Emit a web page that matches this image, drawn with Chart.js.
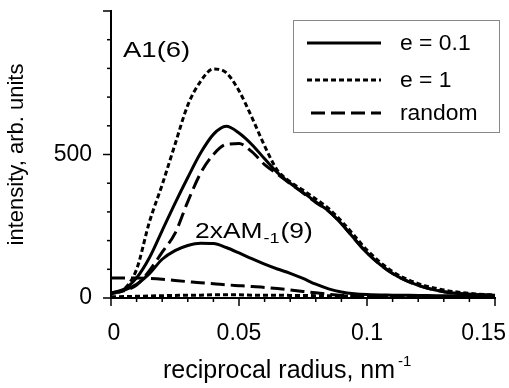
<!DOCTYPE html>
<html>
<head>
<meta charset="utf-8">
<script src="https://cdn.jsdelivr.net/npm/chart.js@4.4.0/dist/chart.umd.min.js"></script>
<style>
  html, body { margin: 0; padding: 0; background: #fff; }
  #wrap { width: 509px; height: 388px; }
</style>
</head>
<body>
<div id="wrap"><canvas id="chart" width="509" height="388"></canvas></div>
<script>
// reciprocal radius, nm^-1
const radius = [0, 0.005, 0.01, 0.015, 0.02, 0.025, 0.03, 0.035, 0.04, 0.045, 0.05,
  0.055, 0.06, 0.065, 0.07, 0.075, 0.08, 0.085, 0.09, 0.095, 0.1,
  0.11, 0.12, 0.13, 0.14, 0.15];

// A1(6)
const a1Solid = [18, 30, 70, 140, 235, 330, 420, 505, 570, 598, 575,
  535, 485, 437, 400, 368, 335, 303, 259, 207, 157,
  85, 44, 22, 13, 10];
const a1Dotted = [15, 30, 100, 265, 395, 535, 672, 755, 798, 785, 722,
  630, 530, 445, 405, 376, 345, 312, 268, 218, 167,
  92, 50, 28, 16, 10];
const a1Dashed = [15, 25, 45, 95, 160, 225, 336, 435, 500, 535, 538,
  510, 465, 432, 398, 366, 333, 303, 259, 207, 157,
  85, 44, 22, 13, 10];

// 2xAM-1(9)
const amSolid = [17, 27, 48, 85, 135, 165, 183, 191, 190, 176, 157,
  137, 118, 101, 86, 68, 48, 32, 21, 15, 12,
  10, 9, 8, 8, 8];
const amDotted = [4, 5, 6, 7, 8, 9, 10, 10, 11, 11, 11,
  10, 10, 10, 9, 9, 8, 8, 7, 7, 6,
  6, 5, 5, 4, 4];
const amDashed = [70, 70, 70, 68, 65, 61, 57, 53, 50, 46, 43,
  40, 37, 33, 28, 23, 18, 13, 9, 7, 5,
  4, 3, 3, 2, 2];

const xTicks = [0, 0.05, 0.1, 0.15];
const yTicks = [0, 500];

const legendItems = ["e = 0.1", "e = 1", "random"];
const styles = {
  solid: [],
  dotted: [5, 3],
  dashed: [14, 6]
};

function pts(ys) {
  return ys.map((y, i) => ({ x: radius[i], y: y }));
}

function line(ys, dash) {
  return {
    data: pts(ys),
    borderColor: "#000",
    borderWidth: 3,
    borderDash: dash,
    pointRadius: 0,
    fill: false,
    cubicInterpolationMode: "monotone",
    showLine: true
  };
}

const FONT = "Liberation Sans, Arial, sans-serif";

function noPad(scale) {
  scale.paddingLeft = 0;
  scale.paddingRight = 0;
  scale.paddingTop = 0;
  scale.paddingBottom = 0;
}

// text stretched a little sideways, like the reference lettering
function wideText(ctx, txt, x, y, sx) {
  ctx.save();
  ctx.translate(x, y);
  ctx.scale(sx, 1);
  ctx.fillText(txt, 0, 0);
  const w = ctx.measureText(txt).width * sx;
  ctx.restore();
  return w;
}

// draws outward tick marks, x labels, x title, legend box and curve labels
const decor = {
  id: "decor",
  afterDraw(chart) {
    const ctx = chart.ctx;
    const xs = chart.scales.x;
    const ys = chart.scales.y;
    const area = chart.chartArea;
    ctx.save();
    ctx.strokeStyle = "#000";
    ctx.lineWidth = 1.5;
    for (let k = 0; k <= 10; k++) {
      const py = ys.getPixelForValue(k * 100);
      const len = k % 5 === 0 ? 8 : 4;
      ctx.beginPath();
      ctx.moveTo(area.left - len, py);
      ctx.lineTo(area.left, py);
      ctx.stroke();
    }
    for (let k = 0; k <= 15; k++) {
      const px = xs.getPixelForValue(k * 0.01);
      const len = k % 5 === 0 ? 8 : 4;
      ctx.beginPath();
      ctx.moveTo(px, area.bottom);
      ctx.lineTo(px, area.bottom + len);
      ctx.stroke();
    }

    // x tick labels, kept inside the canvas
    ctx.fillStyle = "#000";
    ctx.font = "23px " + FONT;
    ctx.textBaseline = "middle";
    ctx.textAlign = "left";
    xTicks.forEach(v => {
      const s = String(v);
      const w = ctx.measureText(s).width;
      let left = xs.getPixelForValue(v) - w / 2;
      if (v === 0) left += 3;
      left = Math.min(left, chart.width - 3 - w);
      ctx.fillText(s, left, 334);
    });

    // x title with superscript
    ctx.textBaseline = "alphabetic";
    ctx.font = "25px " + FONT;
    const t = "reciprocal radius, nm";
    ctx.fillText(t, 163, 378);
    const tw = ctx.measureText(t).width;
    ctx.font = "15px " + FONT;
    ctx.fillText("-1", 163 + tw + 3, 366);

    // legend
    ctx.strokeStyle = "#888";
    ctx.lineWidth = 1;
    ctx.strokeRect(293.5, 20.5, 206, 112);
    const rows = [43, 80, 113];
    const dashes = [styles.solid, styles.dotted, styles.dashed];
    const starts = [307, 307, 311];
    ctx.font = "22px " + FONT;
    ctx.textBaseline = "middle";
    rows.forEach((y, i) => {
      ctx.strokeStyle = "#000";
      ctx.lineWidth = 3;
      ctx.setLineDash(dashes[i]);
      ctx.beginPath();
      ctx.moveTo(starts[i], y);
      ctx.lineTo(381, y);
      ctx.stroke();
      ctx.setLineDash([]);
      wideText(ctx, legendItems[i], 400, y + 1, 1.04);
    });

    // curve labels
    ctx.textBaseline = "alphabetic";
    ctx.font = "22px " + FONT;
    wideText(ctx, "A1(6)", 123, 57, 1.25);
    let x = 195;
    x += wideText(ctx, "2xAM", x, 238, 1.2);
    ctx.font = "15px " + FONT;
    x += wideText(ctx, "-1", x + 1, 243, 1.2) + 2;
    ctx.font = "22px " + FONT;
    wideText(ctx, "(9)", x, 238, 1.2);
    ctx.restore();
  }
};

new Chart(document.getElementById("chart"), {
  type: "scatter",
  data: {
    datasets: [
      line(a1Solid, styles.solid),
      line(a1Dotted, styles.dotted),
      line(a1Dashed, styles.dashed),
      line(amSolid, styles.solid),
      line(amDotted, styles.dotted),
      line(amDashed, styles.dashed)
    ]
  },
  options: {
    responsive: false,
    animation: false,
    layout: { padding: { top: 11, right: 14, left: 0, bottom: 0 } },
    plugins: { legend: { display: false }, tooltip: { enabled: false } },
    scales: {
      x: {
        type: "linear",
        min: 0,
        max: 0.15,
        afterFit(scale) { scale.height = 90; noPad(scale); },
        afterBuildTicks(scale) { scale.ticks = xTicks.map(v => ({ value: v })); },
        grid: { display: false, drawTicks: false },
        border: { color: "#000", width: 2 },
        ticks: { display: false }
      },
      y: {
        min: 0,
        max: 1000,
        afterFit(scale) { scale.width = 111; noPad(scale); },
        afterBuildTicks(scale) { scale.ticks = yTicks.map(v => ({ value: v })); },
        grid: { display: false, drawTicks: false },
        border: { color: "#000", width: 2 },
        ticks: {
          color: "#000",
          font: { family: FONT, size: 23 },
          padding: 19
        },
        title: {
          display: true,
          text: "intensity, arb. units",
          color: "#000",
          font: { family: FONT, size: 22 },
          padding: { top: 4, bottom: 0 }
        }
      }
    }
  },
  plugins: [decor]
});
</script>
</body>
</html>
